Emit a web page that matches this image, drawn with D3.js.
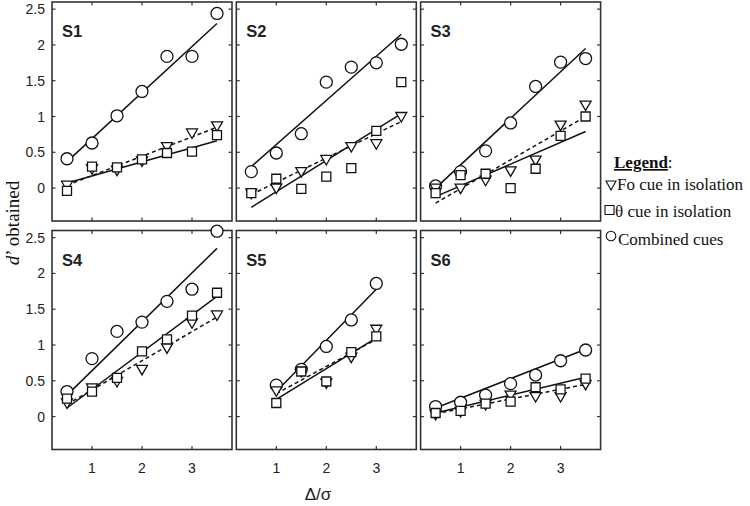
<!DOCTYPE html>
<html><head><meta charset="utf-8">
<script src="https://cdn.jsdelivr.net/npm/d3@7"></script>
<style>body{margin:0;background:#fff}svg{display:block}</style>
</head><body>
<svg id="c" width="750" height="506"></svg>
<script>
// ---- data ----
const panels = ["S1","S2","S3","S4","S5","S6"];
const xFull = [0.5,1,1.5,2,2.5,3,3.5];
const xShort = [1,1.5,2,2.5,3];
const xValues = [xFull, xFull, xFull, xFull, xShort, xFull];
// Fo cue in isolation (triangles)
const foValues = [
  [0.04,0.27,0.25,0.38,0.58,0.77,0.87],
  [-0.07,0.00,0.23,0.40,0.58,0.62,1.00],
  [0.00,0.00,0.11,0.24,0.39,0.88,1.16],
  [0.19,0.40,0.49,0.66,0.96,1.31,1.42],
  [0.36,0.63,0.47,0.83,1.22],
  [0.03,0.07,0.17,0.30,0.28,0.28,0.45]
];
// theta cue in isolation (squares)
const thetaValues = [
  [-0.04,0.30,0.29,0.40,0.49,0.51,0.74],
  [-0.07,0.13,-0.01,0.16,0.28,0.80,1.48],
  [-0.07,0.18,0.20,0.00,0.27,0.73,1.00],
  [0.25,0.35,0.54,0.91,1.08,1.41,1.73],
  [0.19,0.63,0.49,0.90,1.12],
  [0.05,0.08,0.18,0.21,0.41,0.38,0.53]
];
// combined cues (circles)
const combValues = [
  [0.41,0.63,1.01,1.35,1.84,1.84,2.44],
  [0.23,0.49,0.76,1.48,1.69,1.75,2.01],
  [0.03,0.23,0.52,0.91,1.42,1.76,1.81],
  [0.35,0.81,1.19,1.32,1.61,1.78,2.59],
  [0.44,0.66,0.98,1.35,1.86],
  [0.14,0.20,0.30,0.46,0.58,0.78,0.93]
];
// fitted lines: [value at start, value at end]
const fitXRange = [[0.5,3.5],[0.5,3.5],[0.5,3.5],[0.5,3.5],[1,3],[0.5,3.5]];
const fitComb  = [[0.37,2.30],[0.30,2.15],[0.00,1.95],[0.30,2.35],[0.35,1.78],[0.12,0.94]];
const fitFo    = [[0.04,0.85],[-0.09,0.93],[-0.21,1.00],[0.17,1.39],[0.32,1.08],[0.04,0.45]];
const fitTheta = [[0.07,0.66],[-0.27,1.04],[-0.12,0.79],[0.12,1.68],[0.24,1.10],[0.05,0.55]];
const yTicks = [0,0.5,1,1.5,2,2.5];
const yTickLabels = ["0","0.5","1","1.5","2","2.5"];
const xTicks = [1,2,3];
const xTickLabels = ["1","2","3"];
const legendItems = ["Fo cue in isolation","\u03B8 cue in isolation","Combined cues"];

// ---- layout ----
const svg = d3.select("#c");
const colLeft = [52, 236.3, 420.6];
const rowTop = [2, 230.5];
const pw = 180;
const x = d3.scaleLinear().domain([0.2,3.8]).range([0,pw]);
const y = d3.scaleLinear().domain([-0.46,2.6]).range([219,0]);
const ph = 219;
const triPath = "M-5.5,-4 L5.5,-4 L0,5.5 Z";
const sqPath = "M-4.5,-4.5 L4.5,-4.5 L4.5,4.5 L-4.5,4.5 Z";

panels.forEach((name,i)=>{
  const col = i%3, row = Math.floor(i/3);
  const g = svg.append("g").attr("transform",`translate(${colLeft[col]},${rowTop[row]})`);
  const tl = 3.5;
  yTicks.forEach(t=>{
    g.append("line").attr("x1",0).attr("x2",tl).attr("y1",y(t)).attr("y2",y(t)).attr("stroke","#333").attr("stroke-width",1.2);
    g.append("line").attr("x1",pw).attr("x2",pw-tl).attr("y1",y(t)).attr("y2",y(t)).attr("stroke","#333").attr("stroke-width",1.2);
  });
  xTicks.forEach(t=>{
    g.append("line").attr("x1",x(t)).attr("x2",x(t)).attr("y1",0).attr("y2",tl).attr("stroke","#333").attr("stroke-width",1.2);
    g.append("line").attr("x1",x(t)).attr("x2",x(t)).attr("y1",ph).attr("y2",ph-tl).attr("stroke","#333").attr("stroke-width",1.2);
  });
  g.append("rect").attr("x",0).attr("y",0).attr("width",pw).attr("height",ph)
    .attr("fill","none").attr("stroke","#333").attr("stroke-width",1.6);
  if(col===0){
    yTicks.forEach((t,k)=>{
      g.append("text").attr("x",-7).attr("y",y(t)).attr("dy","0.36em").attr("text-anchor","end")
        .attr("font-family","Liberation Sans, Arial, sans-serif").attr("font-size",14).attr("fill","#222")
        .text(yTickLabels[k]);
    });
  }
  if(row===1){
    xTicks.forEach((t,k)=>{
      g.append("text").attr("x",x(t)).attr("y",ph+23).attr("text-anchor","middle")
        .attr("font-family","Liberation Sans, Arial, sans-serif").attr("font-size",14).attr("fill","#222")
        .text(xTickLabels[k]);
    });
  }
  g.append("text").attr("x",10).attr("y",35).attr("font-family","Liberation Sans, Arial, sans-serif")
    .attr("font-weight","bold").attr("font-size",16.5).attr("fill","#222").text(name);

  const fr = fitXRange[i];
  const drawFit = (vals, dash)=>{
    g.append("line").attr("x1",x(fr[0])).attr("x2",x(fr[1])).attr("y1",y(vals[0])).attr("y2",y(vals[1]))
      .attr("stroke","#111").attr("stroke-width",1.5).attr("stroke-dasharray",dash?"4,3":null);
  };
  drawFit(fitComb[i],false);
  drawFit(fitTheta[i],false);
  drawFit(fitFo[i],true);

  const xs = xValues[i];
  g.selectAll(null).data(combValues[i]).enter().append("circle")
    .attr("cx",(d,k)=>x(xs[k])).attr("cy",d=>y(d)).attr("r",6)
    .attr("fill","#fff").attr("stroke","#111").attr("stroke-width",1.3);
  g.selectAll(null).data(foValues[i]).enter().append("path")
    .attr("d",triPath).attr("transform",(d,k)=>`translate(${x(xs[k])},${y(d)})`)
    .attr("fill","#fff").attr("stroke","#111").attr("stroke-width",1.3);
  g.selectAll(null).data(thetaValues[i]).enter().append("path")
    .attr("d",sqPath).attr("transform",(d,k)=>`translate(${x(xs[k])},${y(d)})`)
    .attr("fill","#fff").attr("stroke","#111").attr("stroke-width",1.3);
});

// axis titles
svg.append("text").attr("x",318).attr("y",500).attr("text-anchor","middle")
  .attr("font-family","Liberation Sans, Arial, sans-serif").attr("font-size",17).attr("fill","#222").text("\u0394/\u03C3");
const yl = svg.append("text").attr("transform","translate(19,223) rotate(-90)").attr("text-anchor","middle")
  .attr("font-family","Liberation Serif, Times New Roman, serif").attr("font-size",19).attr("fill","#111");
yl.append("tspan").attr("font-style","italic").text("d");
yl.append("tspan").text("\u2019 obtained");

// legend
const lg = svg.append("g");
const lt = lg.append("text").attr("x",614).attr("y",168).attr("font-family","Liberation Serif, Times New Roman, serif")
  .attr("font-size",17).attr("fill","#111");
lt.append("tspan").attr("font-weight","bold").attr("text-decoration","underline").text("Legend");
lt.append("tspan").text(":");
const legY = [190,217,245];
const legSym = ["M-5,-4 L5,-4 L0,5 Z","M-4.5,-4.5 L4.5,-4.5 L4.5,4.5 L-4.5,4.5 Z",null];
legendItems.forEach((t,k)=>{
  if(legSym[k]) lg.append("path").attr("d",legSym[k]).attr("transform",`translate(${k===0?611:609.5},${legY[k]-(k===0?5:7)})`)
    .attr("fill","#fff").attr("stroke","#111").attr("stroke-width",1.1);
  else lg.append("circle").attr("cx",611).attr("cy",legY[k]-9).attr("r",4.8).attr("fill","#fff").attr("stroke","#111").attr("stroke-width",1.1);
  lg.append("text").attr("x",k===2?618:(k===0?617:615)).attr("y",legY[k]).attr("font-family","Liberation Serif, Times New Roman, serif")
    .attr("font-size",17).attr("fill","#111").text(t);
});
</script>
</body></html>
